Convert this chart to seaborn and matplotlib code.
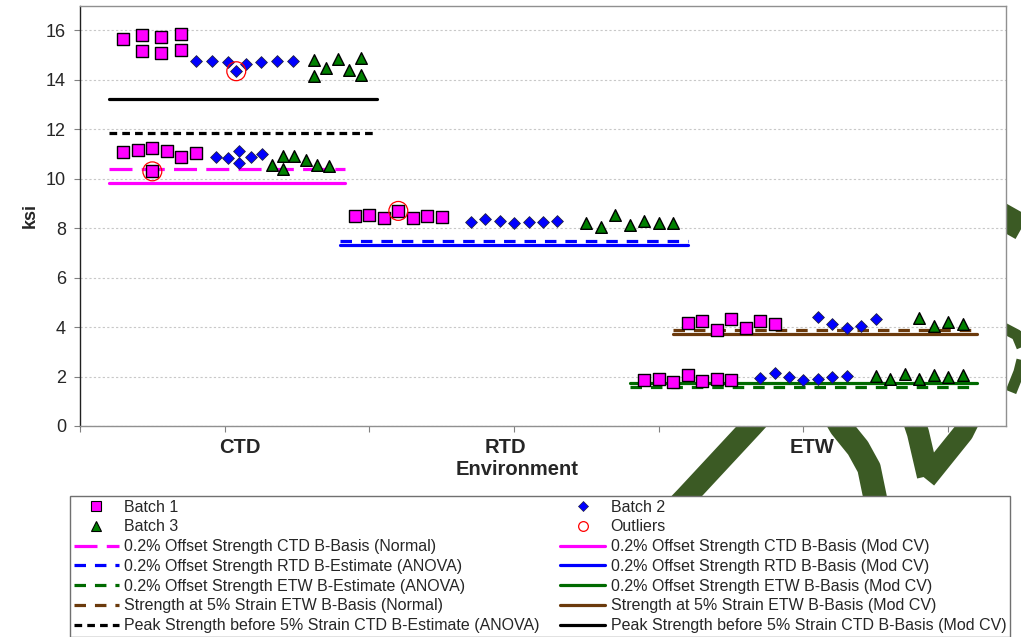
import matplotlib
matplotlib.use("Agg")
import matplotlib.pyplot as plt
from matplotlib.lines import Line2D
import pandas as pd
import seaborn as sns

# ---------------- specimen data (x = position along the environment axis, ksi) ----------------
# CTD - peak strength before 5% strain
ctd_peak_b1_x = [3.0, 4.3, 4.3, 5.6, 5.6, 7.0, 7.0]
ctd_peak_b1 = [15.66, 15.81, 15.18, 15.72, 15.08, 15.85, 15.19]
ctd_peak_b2_x = [8.0, 9.1, 10.2, 10.8, 11.45, 12.5, 13.6, 14.7]
ctd_peak_b2 = [14.77, 14.77, 14.74, 14.35, 14.64, 14.73, 14.76, 14.78]
ctd_peak_b3_x = [16.2, 16.2, 17.0, 17.8, 18.6, 19.4, 19.4]
ctd_peak_b3 = [14.81, 14.15, 14.47, 14.84, 14.39, 14.88, 14.18]

# CTD - 0.2% offset strength
ctd_off_b1_x = [3, 4, 5, 5, 6, 7, 8]
ctd_off_b1 = [11.09, 11.15, 11.25, 10.30, 11.12, 10.88, 11.04]
ctd_off_b2_x = [9.4, 10.2, 11.0, 11.0, 11.8, 12.6]
ctd_off_b2 = [10.90, 10.82, 11.13, 10.63, 10.88, 11.01]
ctd_off_b3_x = [13.25, 14.0, 14.0, 14.8, 15.6, 16.4, 17.2]
ctd_off_b3 = [10.55, 10.92, 10.38, 10.93, 10.74, 10.57, 10.50]

# RTD - 0.2% offset strength
rtd_off_b1_x = [19, 20, 21, 22, 23, 24, 25]
rtd_off_b1 = [8.50, 8.54, 8.43, 8.70, 8.42, 8.51, 8.46]
rtd_off_b2_x = [27, 28, 29, 30, 31, 32, 33]
rtd_off_b2 = [8.24, 8.36, 8.29, 8.21, 8.25, 8.25, 8.29]
rtd_off_b3_x = [35, 36, 37, 38, 39, 40, 41]
rtd_off_b3 = [8.20, 8.04, 8.54, 8.12, 8.29, 8.20, 8.22]

# ETW - strength at 5% strain
etw_5pct_b1_x = [42, 43, 44, 45, 46, 47, 48]
etw_5pct_b1 = [4.17, 4.26, 3.90, 4.34, 3.98, 4.25, 4.14]
etw_5pct_b2_x = [51, 52, 53, 54, 55]
etw_5pct_b2 = [4.39, 4.14, 3.95, 4.06, 4.32]
etw_5pct_b3_x = [58, 59, 60, 61]
etw_5pct_b3 = [4.37, 4.06, 4.22, 4.14]

# ETW - 0.2% offset strength
etw_off_b1_x = [39, 40, 41, 42, 43, 44, 45]
etw_off_b1 = [1.88, 1.91, 1.79, 2.05, 1.80, 1.91, 1.86]
etw_off_b2_x = [47, 48, 49, 50, 51, 52, 53]
etw_off_b2 = [1.96, 2.14, 1.98, 1.88, 1.91, 1.99, 2.02]
etw_off_b3_x = [55, 56, 57, 58, 59, 60, 61]
etw_off_b3 = [2.02, 1.92, 2.10, 1.92, 2.05, 2.00, 2.05]

# flagged outliers
outlier_x = [10.8, 5, 22]
outlier_ksi = [14.35, 10.30, 8.70]

# basis values (ksi) and the x-span each one covers
basis_labels = [
    "0.2% Offset Strength CTD B-Basis (Normal)",
    "0.2% Offset Strength CTD B-Basis (Mod CV)",
    "0.2% Offset Strength RTD B-Estimate (ANOVA)",
    "0.2% Offset Strength RTD B-Basis (Mod CV)",
    "0.2% Offset Strength ETW B-Estimate (ANOVA)",
    "0.2% Offset Strength ETW B-Basis (Mod CV)",
    "Strength at 5% Strain ETW B-Basis (Normal)",
    "Strength at 5% Strain ETW B-Basis (Mod CV)",
    "Peak Strength before 5% Strain CTD B-Estimate (ANOVA)",
    "Peak Strength before 5% Strain CTD B-Basis (Mod CV)",
]
basis_ksi = [10.38, 9.83, 7.47, 7.33, 1.56, 1.74, 3.89, 3.74, 11.84, 13.24]
basis_x_start = [2, 2, 18, 18, 38, 38, 41, 41, 2, 2]
basis_x_end = [18.3, 18.3, 42, 42, 62, 62, 62, 62, 20.5, 20.5]

env_labels = ["CTD", "RTD", "ETW"]
env_label_x = [11.06, 29.4, 50.6]
x_ticks = [0, 10, 20, 30, 40, 50, 60]
y_ticks = [0, 2, 4, 6, 8, 10, 12, 14, 16]

# ---------------- styling ----------------
MAGENTA, BLUE, GREEN, BROWN = "#FF00FF", "#0000FF", "#008000", "#6B3A0C"
LINE_GREEN = "#006A00"
LONG_DASH = (0, (7.2, 2.9))
SHORT_DASH = (0, (3.6, 2.8))
BLACK_DASH = (0, (2.4, 1.6))
basis_styles = [
    (MAGENTA, LONG_DASH), (MAGENTA, "-"),
    (BLUE, SHORT_DASH), (BLUE, "-"),
    (LINE_GREEN, SHORT_DASH), (LINE_GREEN, "-"),
    (BROWN, SHORT_DASH), (BROWN, "-"),
    ("black", BLACK_DASH), ("black", "-"),
]

sns.set_theme(style="white")
plt.rcParams["font.family"] = ["Liberation Sans", "DejaVu Sans"]

W, H = 1021, 637
fig = plt.figure(figsize=(W / 100, H / 100), dpi=100)
fig.patch.set_facecolor("white")


def px(x, y):
    return x / W, 1 - y / H


# faint logo strokes sitting behind the chart and legend
LOGO = "#3B5A24"
logo_strokes = [
    ([(662, 522), (686, 497), (752, 426), (762, 415)], 16),
    ([(834, 415), (841, 427), (858, 448), (869, 468), (875, 497), (877, 510)], 17),
    ([(912, 415), (918, 433), (928, 476)], 16),
    ([(972, 415), (963, 433), (926, 479)], 15),
    ([(998, 214), (1030, 232)], 19),
    ([(998, 325), (1017, 335), (1024, 352), (1019, 372), (1011, 392)], 8),
]
for pts, lw in logo_strokes:
    xs, ys = zip(*[px(a, b) for a, b in pts])
    fig.add_artist(Line2D(xs, ys, color=LOGO, lw=lw, solid_capstyle="butt",
                          solid_joinstyle="round", zorder=-5))

ax = fig.add_axes([80 / W, 1 - 426 / H, (1006 - 80) / W, (426 - 5.7) / H])
ax.set_facecolor("white")

# basis lines
for lab, v, x0, x1, (col, ls) in zip(basis_labels, basis_ksi, basis_x_start,
                                      basis_x_end, basis_styles):
    sns.lineplot(x=[x0, x1], y=[v, v], color=col, linestyle=ls, linewidth=2.3,
                 errorbar=None, ax=ax, zorder=3, legend=False)

# specimen points
frames = []
for batch, xs_list, ys_list in [
    ("Batch 1", [ctd_peak_b1_x, ctd_off_b1_x, rtd_off_b1_x, etw_5pct_b1_x, etw_off_b1_x],
     [ctd_peak_b1, ctd_off_b1, rtd_off_b1, etw_5pct_b1, etw_off_b1]),
    ("Batch 2", [ctd_peak_b2_x, ctd_off_b2_x, rtd_off_b2_x, etw_5pct_b2_x, etw_off_b2_x],
     [ctd_peak_b2, ctd_off_b2, rtd_off_b2, etw_5pct_b2, etw_off_b2]),
    ("Batch 3", [ctd_peak_b3_x, ctd_off_b3_x, rtd_off_b3_x, etw_5pct_b3_x, etw_off_b3_x],
     [ctd_peak_b3, ctd_off_b3, rtd_off_b3, etw_5pct_b3, etw_off_b3]),
]:
    for xs, ys in zip(xs_list, ys_list):
        frames.append(pd.DataFrame({"x": xs, "ksi": ys, "batch": batch}))
pts = pd.concat(frames, ignore_index=True)

batch_style = {
    "Batch 1": dict(marker="s", s=76, color=MAGENTA, edgecolor="black", linewidth=1.0),
    "Batch 2": dict(marker="D", s=36, color=BLUE, edgecolor="#222244", linewidth=0.6),
    "Batch 3": dict(marker="^", s=70, color=GREEN, edgecolor="black", linewidth=1.0),
}
for batch, kw in batch_style.items():
    sub = pts[pts["batch"] == batch]
    sns.scatterplot(data=sub, x="x", y="ksi", ax=ax, zorder=5, legend=False, **kw)

sns.scatterplot(x=outlier_x, y=outlier_ksi, marker="o", s=185, facecolor="none",
                edgecolor="red", linewidth=0.9, ax=ax, zorder=6, legend=False)

# axes
ax.set_xlim(0, 64)
ax.set_ylim(0, 17)
ax.set_xticks(x_ticks)
ax.set_xticklabels([])
ax.set_yticks(y_ticks)
ax.set_yticklabels([str(t) for t in y_ticks], fontsize=13)
ax.set_xlabel("")
ax.set_ylabel("ksi", fontsize=13, fontweight="bold", labelpad=5)
ax.tick_params(axis="both", direction="out", length=4, width=0.8, color="#808080",
               left=True, bottom=True, pad=6)
ax.grid(axis="y", color="#C8C8C8", linestyle=(0, (2, 2)), linewidth=0.8, zorder=0)
ax.set_axisbelow(True)
for side, sp in ax.spines.items():
    sp.set_visible(True)
    sp.set_linewidth(1.0)
    sp.set_color("#909090")
ax.spines["left"].set_color("#202020")

tr = ax.get_xaxis_transform()
for lab, xv in zip(env_labels, env_label_x):
    ax.text(xv, -0.05, lab, transform=tr, ha="center", va="center",
            fontsize=14.5, fontweight="bold")
ax.text(30.2, -0.103, "Environment", transform=tr, ha="center", va="center",
        fontsize=14.5, fontweight="bold")

# legend
def mk(marker, ms, fc, ec, mew=0.8):
    return Line2D([], [], linestyle="none", marker=marker, markersize=ms,
                  markerfacecolor=fc, markeredgecolor=ec, markeredgewidth=mew)


def ln(col, ls):
    return Line2D([], [], color=col, linestyle=ls, linewidth=2.3)


h = {lab: ln(c, ls) for lab, (c, ls) in zip(basis_labels, basis_styles)}
left = [
    (mk("s", 7, MAGENTA, "black"), "Batch 1"),
    (mk("^", 7, GREEN, "black"), "Batch 3"),
    (h[basis_labels[0]], basis_labels[0]),
    (h[basis_labels[2]], basis_labels[2]),
    (h[basis_labels[4]], basis_labels[4]),
    (h[basis_labels[6]], basis_labels[6]),
    (h[basis_labels[8]], basis_labels[8]),
]
right = [
    (mk("D", 5, BLUE, "#222244", 0.5), "Batch 2"),
    (mk("o", 7, "none", "red", 0.9), "Outliers"),
    (h[basis_labels[1]], basis_labels[1]),
    (h[basis_labels[3]], basis_labels[3]),
    (h[basis_labels[5]], basis_labels[5]),
    (h[basis_labels[7]], basis_labels[7]),
    (h[basis_labels[9]], basis_labels[9]),
]
handles = [a for a, _ in left + right]
labels = [b for _, b in left + right]
leg = fig.legend(handles, labels, ncol=2, loc="upper left",
                 bbox_to_anchor=px(70, 496), frameon=True, fancybox=False,
                 edgecolor="#707070", facecolor="white", framealpha=1,
                 fontsize=11.5, handlelength=2.83, handletextpad=0.33,
                 columnspacing=1.3, labelspacing=0.3, borderpad=0.22,
                 borderaxespad=0)
leg.get_frame().set_linewidth(1.0)

fig.savefig("out.png", dpi=100, facecolor="white")
